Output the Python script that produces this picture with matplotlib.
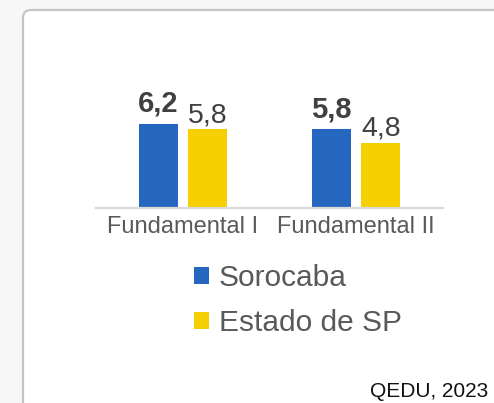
import matplotlib
matplotlib.use("Agg")
import numpy as np
import matplotlib.pyplot as plt
from matplotlib.patches import FancyBboxPatch, Patch

plt.rcParams["font.family"] = ["Liberation Sans", "DejaVu Sans"]

categorias = ["Fundamental I", "Fundamental II"]
series = ["Sorocaba", "Estado de SP"]
sorocaba = [6.2, 5.8]
estado_sp = [5.8, 4.8]
cores = ["#2566bf", "#f6cf00"]
fonte = "QEDU, 2023"

W, H = 494, 403
fig = plt.figure(figsize=(W / 100, H / 100), dpi=100)
fig.patch.set_facecolor("#f7f7f7")

# fundo em pixels, caixa arredondada
bg = fig.add_axes([0, 0, 1, 1])
bg.set_xlim(0, W)
bg.set_ylim(H, 0)
bg.axis("off")
bg.add_patch(FancyBboxPatch((23, 10), 520, 430, boxstyle="round,pad=0,rounding_size=8",
                            facecolor="white", edgecolor="#c4c4c4", linewidth=1.6))

ax = fig.add_axes([96 / W, (H - 207.5) / H, 347 / W, 167.5 / H])
ax.patch.set_alpha(0)
x = np.arange(len(categorias))
width = 0.225
off = 0.141

b1 = ax.bar(x - off, sorocaba, width, color=cores[0], label=series[0])
b2 = ax.bar(x + off, estado_sp, width, color=cores[1], label=series[1])

for rect, v in zip(b1, sorocaba):
    ax.annotate(f"{v:.1f}".replace(".", ","), (rect.get_x() + rect.get_width() / 2, v),
                xytext=(0, 8.5), textcoords="offset points", ha="center", va="baseline",
                fontsize=21, fontweight="bold", color="#404040")
for rect, v in zip(b2, estado_sp):
    ax.annotate(f"{v:.1f}".replace(".", ","), (rect.get_x() + rect.get_width() / 2, v),
                xytext=(0, 4.8), textcoords="offset points", ha="center", va="baseline",
                fontsize=20.5, color="#404040")

ax.set_xlim(-0.5, 1.5)
ax.set_ylim(0, 12.4)
ax.set_xticks(x)
ax.set_xticklabels(categorias, fontsize=17, color="#595959")
ax.tick_params(axis="x", length=0, pad=6)
ax.set_yticks([])
for s in ["left", "right", "top"]:
    ax.spines[s].set_visible(False)
ax.spines["bottom"].set_color("#d9d9d9")
ax.spines["bottom"].set_linewidth(1.6)

handles = [Patch(facecolor=c, edgecolor="none") for c in cores]
fig.legend(handles, series, loc="upper left", bbox_to_anchor=(194 / W, 1 - 264 / H),
           frameon=False, fontsize=21.5, handlelength=0.5, handleheight=0.5,
           handletextpad=0.33, labelspacing=0.56, borderpad=0, borderaxespad=0,
           labelcolor="#595959")

fig.text(488 / W, 1 - 397 / H, fonte, ha="right", va="baseline", fontsize=15, color="#111111")

fig.savefig("out.png", dpi=100)
